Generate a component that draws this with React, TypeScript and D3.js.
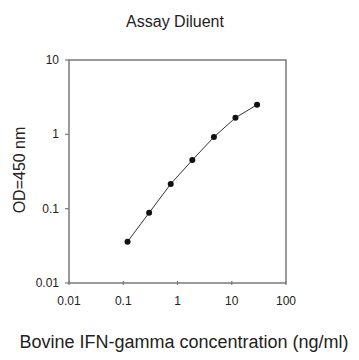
import React from "react";
import * as d3 from "d3";

const concentrations = [0.12, 0.3, 0.75, 1.875, 4.69, 11.7, 29.3];
const odValues = [0.036, 0.088, 0.215, 0.45, 0.92, 1.67, 2.5];
const xTicks = [0.01, 0.1, 1, 10, 100];
const yTicks = [0.01, 0.1, 1, 10];
const xTickLabels = ["0.01", "0.1", "1", "10", "100"];
const yTickLabels = ["0.01", "0.1", "1", "10"];

const W = 359, H = 360;
const M = { left: 69, right: 286, top: 60, bottom: 283 };
const FONT = "'Liberation Sans', Arial, sans-serif";

export default function App() {
  const x = d3.scaleLog().domain([0.01, 100]).range([M.left, M.right]);
  const y = d3.scaleLog().domain([0.01, 10]).range([M.bottom, M.top]);
  const pts = concentrations.map((c, i) => [x(c), y(odValues[i])] as [number, number]);
  const line = d3.line()(pts) || "";
  const axisColor = "#7a7a7a";
  return (
    <svg width={W} height={H} style={{ position: "absolute", left: 0, top: 0, background: "#fff" }} fontFamily={FONT}>
      <text x={175} y={27} fontSize={16} textAnchor="middle" fill="#222">Assay Diluent</text>
      <rect x={M.left} y={M.top} width={M.right - M.left} height={M.bottom - M.top} fill="none" stroke={axisColor} strokeWidth={1.5} />
      {xTicks.map((t, i) => (
        <g key={"x" + i}>
          <line x1={x(t)} x2={x(t)} y1={M.bottom - 2} y2={M.bottom + 2} stroke={axisColor} strokeWidth={1.2} />
          <text x={x(t)} y={305} fontSize={12} textAnchor="middle" fill="#222">{xTickLabels[i]}</text>
        </g>
      ))}
      {yTicks.map((t, i) => (
        <g key={"y" + i}>
          <line x1={M.left - 4} x2={M.left} y1={y(t)} y2={y(t)} stroke={axisColor} strokeWidth={1.2} />
          <text x={59} y={y(t) + 4} fontSize={12} textAnchor="end" fill="#222">{yTickLabels[i]}</text>
        </g>
      ))}
      <path d={line} fill="none" stroke="#333" strokeWidth={1} />
      {pts.map((p, i) => (
        <circle key={i} cx={p[0]} cy={p[1]} r={3} fill="#111" />
      ))}
      <text transform={`translate(25,170) rotate(-90)`} fontSize={16} textAnchor="middle" fill="#222">OD=450 nm</text>
      <text x={184} y={348} fontSize={18} textAnchor="middle" fill="#222">Bovine IFN-gamma concentration (ng/ml)</text>
    </svg>
  );
}
